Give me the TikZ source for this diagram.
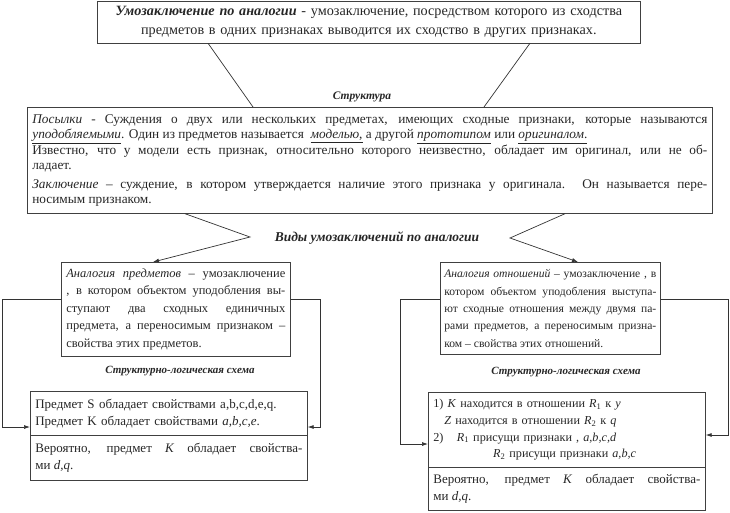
\documentclass[tikz,border=0pt]{standalone}
\usepackage{fontspec}
\setmainfont{Liberation Serif}
\usetikzlibrary{arrows.meta}

\begin{document}
\begin{tikzpicture}[x=1pt,y=-1pt,
  box/.style={draw=black!75, line width=0.7pt, anchor=north west, inner xsep=5pt,
    inner ysep=2pt, align=justify, text=black!85},
  lbl/.style={font=\bfseries\itshape\fontsize{11}{13}\selectfont, text=black!85},
  ln/.style={draw=black!80, line width=0.7pt},
  arr/.style={ln, -{Latex[length=6pt,width=4pt]}}]
\useasboundingbox (0,0) rectangle (730,512);

% definition
\node[box, minimum width=543pt, minimum height=42pt, text width=533pt, align=center,
  font=\fontsize{14.2}{19}\selectfont] (def) at (97,0.5)
  {\textbf{\textit{Умозаключение по аналогии}} - умозаключение, посредством которого из сходства\\
   предметов в одних признаках выводится их сходство в других признаках.};

% structure
\node[lbl, font=\bfseries\itshape\fontsize{11.5}{13}\selectfont] (struct) at (362,97) {Структура};
\node[box, minimum width=685pt, minimum height=106pt, text width=675pt,
  font=\fontsize{13.3}{15.5}\selectfont] (prem) at (27,107)
  {\textit{Посылки} - Суждения о двух или нескольких предметах, имеющих сходные признаки, которые называются\linebreak
   \underline{\textit{уподобляемыми}}. Один из предметов называется \ \underline{\textit{моделью},} а другой \underline{\textit{прототипом}} или \underline{\textit{оригиналом}.}\\
   Известно, что у модели есть признак, относительно которого неизвестно, обладает им оригинал, или не об-\linebreak
   ладает.\\[3pt]
   \textit{Заключение} – суждение, в котором утверждается наличие этого признака у оригинала. Он называется пере-\linebreak
   носимым признаком.};

\draw[ln] ([xshift=111pt]def.south west) -- ([xshift=226pt]prem.north west);
\draw[ln] ([xshift=433pt]def.south west) -- ([xshift=457pt]prem.north west);

% kinds
\node[lbl, font=\bfseries\itshape\fontsize{13.5}{15}\selectfont] (kinds) at (377,238) {Виды умозаключений по аналогии};
\coordinate (lv) at (250,237);
\coordinate (rv) at (510,238);

\node[box, minimum width=229pt, minimum height=94pt, text width=219pt,
  font=\fontsize{12.5}{17.5}\selectfont] (objs) at (61,262)
  {\textit{Аналогия предметов} – умозаключение\linebreak
   , в котором объектом уподобления вы-\linebreak
   ступают два сходных единичных\linebreak
   предмета, а переносимым признаком –\linebreak
   свойства этих предметов.};
\node[box, minimum width=220pt, minimum height=92pt, text width=212pt, inner xsep=4pt,
  font=\fontsize{11.6}{17.3}\selectfont] (rels) at (440,262)
  {\textit{Аналогия отношений} – умозаключение , в\linebreak
   котором объектом уподобления выступа-\linebreak
   ют сходные отношения между двумя па-\linebreak
   рами предметов, а переносимым призна-\linebreak
   ком – свойства этих отношений.};

\draw[arr] ([xshift=158pt]prem.south west) -- (lv) -- ([xshift=92pt]objs.north west);
\draw[arr] ([xshift=538pt]prem.south west) -- (rv) -- ([xshift=138pt]rels.north west);

% schemes
\node[lbl] (schemeL) at (180,371) {Структурно-логическая схема};
\node[lbl] (schemeR) at (566,372) {Структурно-логическая схема};

\node[box, minimum width=277pt, minimum height=44pt, text width=267pt, align=left,
  font=\fontsize{13}{17}\selectfont] (objsA) at (30,391)
  {Предмет S обладает свойствами a,b,c,d,e,q.\\
   Предмет K обладает свойствами \textit{a,b,c,e}.};
\node[box, minimum width=277pt, minimum height=45pt, text width=267pt,
  font=\fontsize{13}{17}\selectfont] (objsB) at (30,435)
  {Вероятно, предмет \textit{K} обладает свойства-\linebreak
   ми \textit{d,q}.};

\node[box, minimum width=277pt, minimum height=75pt, text width=267pt, align=left,
  font=\fontsize{12.2}{16.7}\selectfont] (relsA) at (428,392)
  {1) \textit{K} находится в отношении \textit{R}\textsubscript{1} к \textit{y}\\
   \hspace*{0.9em}\textit{Z} находится в отношении \textit{R}\textsubscript{2} к \textit{q}\\
   2)\hspace*{1.1em}\textit{R}\textsubscript{1} присущи признаки , \textit{a,b,c,d}\\
   \hspace*{4.9em}\textit{R}\textsubscript{2} присущи признаки \textit{a,b,c}};
\node[box, minimum width=277pt, minimum height=43pt, text width=267pt,
  font=\fontsize{13}{17}\selectfont] (relsB) at (428,467)
  {Вероятно, предмет \textit{K} обладает свойства-\linebreak
   ми \textit{d,q}.};

\draw[arr] ([yshift=-37pt]objs.north west) -- ++(-59,0) |- ([yshift=-36pt]objsA.north west);
\draw[arr] ([yshift=-37pt]objs.north east) -- ++(30,0) |- ([yshift=-36pt]objsA.north east);
\draw[arr] ([yshift=-37pt]rels.north west) -- ++(-40,0) |- ([yshift=-52pt]relsA.north west);
\draw[arr] ([yshift=-37pt]rels.north east) -- ++(68,0) |- ([yshift=-43pt]relsA.north east);
\end{tikzpicture}
\end{document}
